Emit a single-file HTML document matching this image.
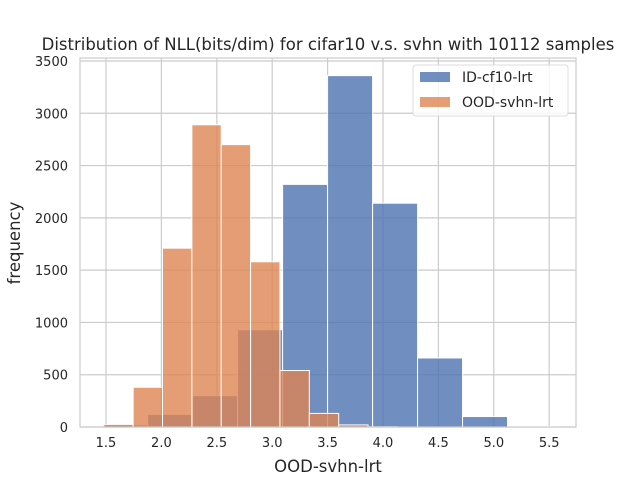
<!DOCTYPE html>
<html><head><meta charset="utf-8"><style>
body{margin:0;background:#fff}
svg{display:block;font-family:"DejaVu Sans","Liberation Sans",sans-serif}
</style></head><body>
<svg id="chart" width="640" height="480" viewBox="0 0 640 480" xmlns="http://www.w3.org/2000/svg">
<text x="328" y="50" text-anchor="middle" font-size="16.5" fill="#262626">Distribution of NLL(bits/dim) for cifar10 v.s. svhn with 10112 samples</text>
<g id="grid"></g>
<g id="bars"></g>
<rect x="80" y="58" width="496" height="369" fill="none" stroke="#ccc" stroke-width="1.2"/>
<g id="ticks"></g>
<text x="328" y="472" text-anchor="middle" font-size="16.5" fill="#262626">OOD-svhn-lrt</text>
<text transform="translate(20,243) rotate(-90)" text-anchor="middle" font-size="16.5" fill="#262626">frequency</text>
<g>
<rect x="413" y="65" width="155" height="51" rx="3" fill="#fff" fill-opacity="0.8" stroke="#ddd"/>
<rect x="420" y="72" width="30" height="10" fill="#4c72b0" fill-opacity="0.8"/>
<text x="462" y="82" font-size="14" fill="#262626">ID-cf10-lrt</text>
<rect x="420" y="97" width="30" height="10" fill="#dd8452" fill-opacity="0.8"/>
<text x="462" y="107" font-size="14" fill="#262626">OOD-svhn-lrt</text>
</g>
</svg>
<script>
const xTicks=[1.5,2.0,2.5,3.0,3.5,4.0,4.5,5.0,5.5];
const yTicks=[0,500,1000,1500,2000,2500,3000,3500];
const idStart=1.47, idWidth=0.406;
const idCounts=[20,120,300,930,2320,3360,2140,660,100,5];
const oodStart=1.48, oodWidth=0.265;
const oodCounts=[25,380,1710,2890,2700,1580,540,130,20,2];
const X=v=>106+(v-1.5)*110.8;
const Y=v=>427-v*(366/3500);
const NS="http://www.w3.org/2000/svg";
const grid=document.getElementById('grid'),bars=document.getElementById('bars'),ticks=document.getElementById('ticks');
function mk(tag,attrs,parent){const e=document.createElementNS(NS,tag);for(const k in attrs)e.setAttribute(k,attrs[k]);parent.appendChild(e);return e;}
xTicks.forEach(t=>{
 const l=mk('line',{x1:X(t),x2:X(t),y1:58,y2:427,stroke:'#ccc','stroke-width':1.2},grid);
 
 
 const tx=mk('text',{x:X(t),y:447,'text-anchor':'middle','font-size':13,fill:'#262626'},ticks);
 tx.textContent=t.toFixed(1);
 
 
});
yTicks.forEach(t=>{
 const l=mk('line',{x1:80,x2:576,y1:Y(t),y2:Y(t),stroke:'#ccc','stroke-width':1.2},grid);
 
 
 const tx=mk('text',{x:68,y:Y(t)+5,'text-anchor':'end','font-size':13,fill:'#262626'},ticks);
 tx.textContent=t;
 
 
});
function drawSeries(start,w,counts,color,name){
 counts.forEach((c,i)=>{
  const x0=X(start+i*w),x1=X(start+(i+1)*w);
  const r=mk('rect',{x:x0,y:Y(c),width:x1-x0,height:Y(0)-Y(c),fill:color,'fill-opacity':0.8,stroke:'#fff','stroke-width':1},bars);
  
  
 });
}
drawSeries(idStart,idWidth,idCounts,'#4c72b0','id');
drawSeries(oodStart,oodWidth,oodCounts,'#dd8452','ood');
</script>
</body></html>
